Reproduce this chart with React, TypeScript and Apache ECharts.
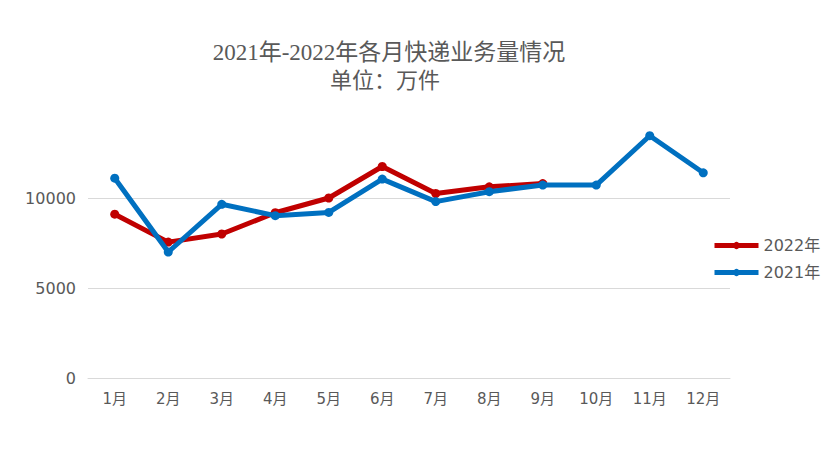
import React, { useEffect, useRef } from "react";
import * as echarts from "echarts";

const months = ["1月", "2月", "3月", "4月", "5月", "6月", "7月", "8月", "9月", "10月", "11月", "12月"];
const data2022 = [9100, 7550, 8000, 9180, 10000, 11750, 10250, 10620, 10800];
const data2021 = [11100, 7000, 9650, 9020, 9200, 11050, 9800, 10350, 10720, 10720, 13460, 11400];
const seriesNames = ["2022年", "2021年"];
const titleText = "2021年-2022年各月快递业务量情况";
const subtitleText = "单位：万件";

const sansFont = "'DejaVu Sans', 'Noto Sans CJK SC', sans-serif";
const serifFont = "'Liberation Serif', 'Noto Sans CJK SC', serif";
const textColor = "#595959";
const gridColor = "#d9d9d9";

export default function App() {
  const ref = useRef<HTMLDivElement>(null);
  useEffect(() => {
    if (!ref.current) return;
    const chart = echarts.init(ref.current, null, { renderer: "svg" });
    chart.setOption({
      animation: false,
      backgroundColor: "#ffffff",
      graphic: [
        {
          type: "text",
          x: 389,
          y: 52,
          style: {
            text: titleText,
            fontFamily: serifFont,
            fontSize: 23,
            fill: textColor,
            textAlign: "center",
            textVerticalAlign: "middle",
          },
        },
        {
          type: "text",
          x: 385,
          y: 80,
          style: {
            text: subtitleText,
            fontFamily: serifFont,
            fontSize: 22,
            fill: textColor,
            textAlign: "center",
            textVerticalAlign: "middle",
          },
        },
        {
          type: "polyline",
          shape: { points: [[821.5, 0], [821.5, 1.5], [832, 1.5]] },
          style: { stroke: "#bfbfbf", lineWidth: 1, fill: null },
        },
      ],
      grid: {
        left: 88,
        right: 102,
        top: 108,
        bottom: 74,
        containLabel: false,
        outerBoundsMode: "none",
      },
      legend: {
        orient: "vertical",
        left: 712,
        top: 236,
        padding: 0,
        itemWidth: 44,
        itemHeight: 9,
        itemGap: 8,
        data: seriesNames,
        lineStyle: { width: 5 },
        textStyle: { color: textColor, fontSize: 16, fontFamily: sansFont, lineHeight: 19 },
      },
      xAxis: {
        type: "category",
        data: months,
        boundaryGap: true,
        axisLine: { show: true, lineStyle: { color: gridColor, width: 1 } },
        axisTick: { show: false },
        axisLabel: { color: textColor, fontSize: 15, fontFamily: sansFont, margin: 13 },
      },
      yAxis: {
        type: "value",
        min: 0,
        max: 15000,
        interval: 5000,
        axisLine: { show: false },
        axisTick: { show: false },
        axisLabel: {
          color: textColor,
          fontSize: 16,
          fontFamily: sansFont,
          margin: 12,
          showMaxLabel: false,
          formatter: (v: number) => String(v),
        },
        splitLine: {
          show: true,
          lineStyle: { color: [gridColor, gridColor, gridColor, "rgba(0,0,0,0)"], width: 1 },
        },
      },
      series: [
        {
          name: seriesNames[0],
          type: "line",
          data: data2022,
          symbol: "circle",
          symbolSize: 9,
          lineStyle: { color: "#c00000", width: 5 },
          itemStyle: { color: "#c00000" },
          z: 2,
        },
        {
          name: seriesNames[1],
          type: "line",
          data: data2021,
          symbol: "circle",
          symbolSize: 9,
          lineStyle: { color: "#0070c0", width: 5 },
          itemStyle: { color: "#0070c0" },
          z: 3,
        },
      ],
    });
    return () => chart.dispose();
  }, []);
  return <div ref={ref} style={{ width: 832, height: 452, margin: -8 }} />;
}
